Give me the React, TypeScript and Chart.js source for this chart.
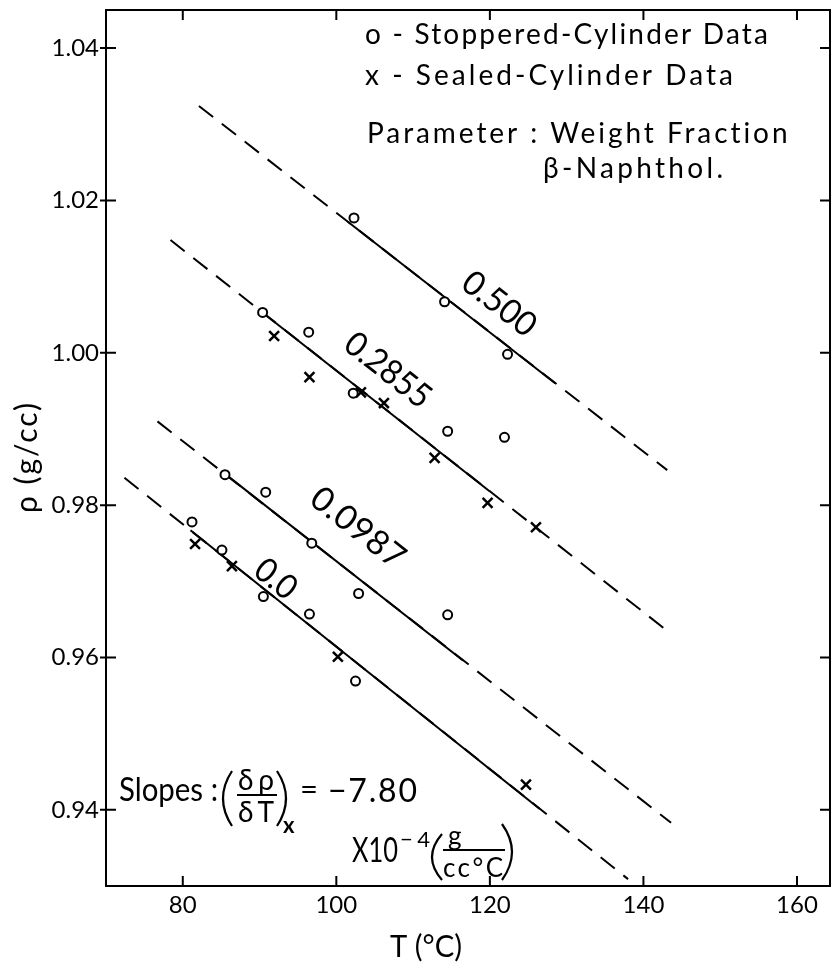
import React, { useEffect, useRef } from 'react';
import { Chart, registerables } from 'chart.js';

Chart.register(...registerables);

// Axis ticks
const X_TICKS = [80, 100, 120, 140, 160];
const Y_TICKS = [0.94, 0.96, 0.98, 1.0, 1.02, 1.04];

// Stoppered-cylinder data (o)
const STOPPERED_T = [102.3, 114.1, 122.3, 90.4, 96.4, 102.2, 114.5, 121.9, 85.5, 90.8, 96.8, 102.9, 114.5, 81.2, 85.1, 90.5, 96.5, 102.5];
const STOPPERED_RHO = [1.0177, 1.0067, 0.9998, 1.0053, 1.0027, 0.9947, 0.9897, 0.9889, 0.984, 0.9817, 0.975, 0.9684, 0.9656, 0.9778, 0.9741, 0.968, 0.9657, 0.9569];

// Sealed-cylinder data (x)
const SEALED_T = [91.9, 96.5, 103.2, 106.2, 112.8, 119.7, 126.0, 81.6, 86.4, 100.2, 124.7];
const SEALED_RHO = [1.0022, 0.9968, 0.9948, 0.9934, 0.9862, 0.9803, 0.9771, 0.9749, 0.972, 0.9601, 0.9433];

// Fitted lines (weight fraction beta-naphthol)
const FRACTIONS = ['0.500', '0.2855', '0.0987', '0.0'];
const LINE_T_START = [82.1, 78.4, 76.7, 72.4];
const LINE_RHO_START = [1.0324, 1.0148, 0.991, 0.9836];
const LINE_T_END = [143.1, 143.6, 143.6, 138.0];
const LINE_RHO_END = [0.9846, 0.9631, 0.9383, 0.9309];
const SOLID_T_START = [101.5, 90.5, 85.5, 81.0];
const SOLID_RHO_START = [1.0172, 1.0052, 0.9841, 0.9767];
const SOLID_T_END = [128.5, 120.0, 116.5, 126.5];
const SOLID_RHO_END = [0.996, 0.9818, 0.9596, 0.9401];
const LABEL_T = [121.2, 106.7, 102.8, 92.1];
const LABEL_RHO = [1.0064, 0.9977, 0.977, 0.9703];
const LABEL_LEN = [84, 100, 110, 44];

const FONT = 'Lato, "Open Sans", sans-serif';

function spacedText(ctx: CanvasRenderingContext2D, text: string, x: number, y: number, size: number, width: number, weight = 'normal') {
  ctx.font = `${weight} ${size}px ${FONT}`;
  (ctx as any).letterSpacing = '0px';
  const w = ctx.measureText(text).width;
  const n = Array.from(text).length;
  if (width > 0 && width >= w) {
    if (n > 1) (ctx as any).letterSpacing = `${(width - w) / (n - 1)}px`;
    ctx.fillText(text, x, y);
  } else if (width > 0) {
    ctx.save();
    ctx.translate(x, y);
    ctx.scale(width / w, 1);
    ctx.fillText(text, 0, 0);
    ctx.restore();
  } else {
    ctx.fillText(text, x, y);
  }
  (ctx as any).letterSpacing = '0px';
}

function paren(ctx: CanvasRenderingContext2D, xEnd: number, xExt: number, y1: number, y2: number) {
  ctx.beginPath();
  ctx.moveTo(xEnd, y1);
  ctx.quadraticCurveTo(xEnd + 2 * (xExt - xEnd), (y1 + y2) / 2, xEnd, y2);
  ctx.stroke();
}

const framePlugin = {
  id: 'frameAndText',
  afterDraw(chart: any) {
    const ctx: CanvasRenderingContext2D = chart.ctx;
    const { left, right, top, bottom } = chart.chartArea;
    const xs = chart.scales.x;
    const ys = chart.scales.y;
    ctx.save();
    ctx.strokeStyle = '#000';
    ctx.fillStyle = '#000';
    ctx.lineWidth = 2;
    ctx.strokeRect(left, top, right - left, bottom - top);
    ctx.beginPath();
    X_TICKS.forEach((v) => {
      const px = xs.getPixelForValue(v);
      ctx.moveTo(px, bottom);
      ctx.lineTo(px, bottom - 10);
      ctx.moveTo(px, top);
      ctx.lineTo(px, top + 10);
    });
    Y_TICKS.forEach((v) => {
      const py = ys.getPixelForValue(v);
      ctx.moveTo(left - 6, py);
      ctx.lineTo(left + 10, py);
      ctx.moveTo(right, py);
      ctx.lineTo(right - 10, py);
    });
    ctx.stroke();

    // line labels, rotated along each line
    ctx.textBaseline = 'middle';
    ctx.textAlign = 'left';
    FRACTIONS.forEach((lab, i) => {
      const x1 = xs.getPixelForValue(LINE_T_START[i]);
      const y1 = ys.getPixelForValue(LINE_RHO_START[i]);
      const x2 = xs.getPixelForValue(LINE_T_END[i]);
      const y2 = ys.getPixelForValue(LINE_RHO_END[i]);
      const ang = Math.atan2(y2 - y1, x2 - x1);
      const cx = xs.getPixelForValue(LABEL_T[i]);
      const cy = ys.getPixelForValue(LABEL_RHO[i]);
      ctx.save();
      ctx.translate(cx, cy);
      ctx.rotate(ang);
      spacedText(ctx, lab, -LABEL_LEN[i] / 2, 0, 34, LABEL_LEN[i]);
      ctx.restore();
    });

    ctx.textBaseline = 'alphabetic';
    // legend block
    spacedText(ctx, 'o - Stoppered-Cylinder Data', 365, 44, 28, 403);
    spacedText(ctx, 'x - Sealed-Cylinder Data', 365, 85, 28, 368);
    spacedText(ctx, 'Parameter : Weight Fraction', 367, 143, 28, 421);
    spacedText(ctx, 'β-Naphthol.', 543, 178, 28, 180);

    // slopes block
    spacedText(ctx, 'Slopes :', 119, 801, 32, 99);
    spacedText(ctx, 'δρ', 238, 790, 28, 36);
    spacedText(ctx, 'δT', 238, 822, 28, 36);
    spacedText(ctx, 'x', 283, 833, 22, 0, 'bold');
    spacedText(ctx, '=', 300, 800, 31, 0);
    spacedText(ctx, '−7.80', 328, 802, 32, 89);
    spacedText(ctx, 'X10', 352, 862, 34, 46);
    spacedText(ctx, '−4', 400, 847, 22, 30);
    spacedText(ctx, 'g', 448, 845, 26, 0);
    spacedText(ctx, 'cc°C', 443, 877, 26, 60);
    ctx.lineWidth = 2;
    ctx.beginPath();
    ctx.moveTo(237, 795);
    ctx.lineTo(277, 795);
    ctx.moveTo(443, 850);
    ctx.lineTo(505, 850);
    ctx.stroke();
    ctx.lineWidth = 2.2;
    paren(ctx, 232, 223, 771, 826);
    paren(ctx, 277, 286, 771, 826);
    paren(ctx, 442, 432, 834, 880);
    paren(ctx, 502, 512, 824, 880);

    // axis titles
    spacedText(ctx, 'T (°C)', 390, 957, 31, 72);
    ctx.save();
    ctx.translate(37, 513);
    ctx.rotate(-Math.PI / 2);
    spacedText(ctx, 'ρ (g/cc)', 0, 0, 30, 110);
    ctx.restore();
    ctx.restore();
  },
};

export default function App() {
  const ref = useRef<HTMLCanvasElement | null>(null);
  useEffect(() => {
    document.body.style.margin = '0';
    const canvas = ref.current;
    if (!canvas) return;
    const datasets: any[] = [];
    datasets.push({
      label: 'Stoppered-Cylinder Data',
      data: STOPPERED_T.map((t, i) => ({ x: t, y: STOPPERED_RHO[i] })),
      pointStyle: 'circle',
      pointRadius: 4.5,
      pointBorderWidth: 2,
      pointBorderColor: '#000',
      pointBackgroundColor: '#fff',
      showLine: false,
      order: 0,
    });
    datasets.push({
      label: 'Sealed-Cylinder Data',
      data: SEALED_T.map((t, i) => ({ x: t, y: SEALED_RHO[i] })),
      pointStyle: 'crossRot',
      pointRadius: 7,
      pointBorderWidth: 2.5,
      pointBorderColor: '#000',
      pointBackgroundColor: '#000',
      showLine: false,
      order: 0,
    });
    FRACTIONS.forEach((f, i) => {
      datasets.push({
        label: `${f} solid`,
        data: [
          { x: SOLID_T_START[i], y: SOLID_RHO_START[i] },
          { x: SOLID_T_END[i], y: SOLID_RHO_END[i] },
        ],
        showLine: true,
        borderColor: '#000',
        borderWidth: 2,
        pointRadius: 0,
        order: 1,
      });
      datasets.push({
        label: `${f} dashed`,
        data: [
          { x: LINE_T_START[i], y: LINE_RHO_START[i] },
          { x: LINE_T_END[i], y: LINE_RHO_END[i] },
        ],
        showLine: true,
        borderColor: '#000',
        borderWidth: 2,
        borderDash: [18, 11],
        borderCapStyle: 'butt',
        pointRadius: 0,
        order: 2,
      });
    });

    const chart = new Chart(canvas, {
      type: 'scatter',
      data: { datasets },
      options: {
        animation: false,
        responsive: false,
        devicePixelRatio: 1,
        layout: { autoPadding: false, padding: { top: 10, right: 1, left: 0, bottom: 0 } },
        plugins: { legend: { display: false }, tooltip: { enabled: false } },
        scales: {
          x: {
            type: 'linear',
            min: 70,
            max: 164.3,
            afterFit: (s: any) => {
              s.height = 80;
              s.paddingLeft = 0;
              s.paddingRight = 0;
            },
            afterBuildTicks: (s: any) => {
              s.ticks = X_TICKS.map((v) => ({ value: v }));
            },
            grid: { display: false, drawTicks: false },
            border: { display: false },
            ticks: {
              font: { family: FONT, size: 24 },
              color: '#000',
              padding: 5,
              maxRotation: 0,
              autoSkip: false,
              callback: (v: any) => String(v),
            },
          },
          y: {
            type: 'linear',
            min: 0.93,
            max: 1.045,
            afterFit: (s: any) => {
              s.width = 106;
              s.paddingTop = 0;
              s.paddingBottom = 0;
            },
            afterBuildTicks: (s: any) => {
              s.ticks = Y_TICKS.map((v) => ({ value: v }));
            },
            grid: { display: false, drawTicks: false },
            border: { display: false },
            ticks: {
              font: { family: FONT, size: 24 },
              color: '#000',
              padding: 7,
              autoSkip: false,
              callback: (v: any) => Number(v).toFixed(2),
            },
          },
        },
      },
      plugins: [framePlugin],
    });
    return () => {
      chart.destroy();
    };
  }, []);
  return (
    <div style={{ width: 831, height: 966, background: '#fff' }}>
      <canvas ref={ref} width={831} height={966} style={{ display: 'block' }} />
    </div>
  );
}
